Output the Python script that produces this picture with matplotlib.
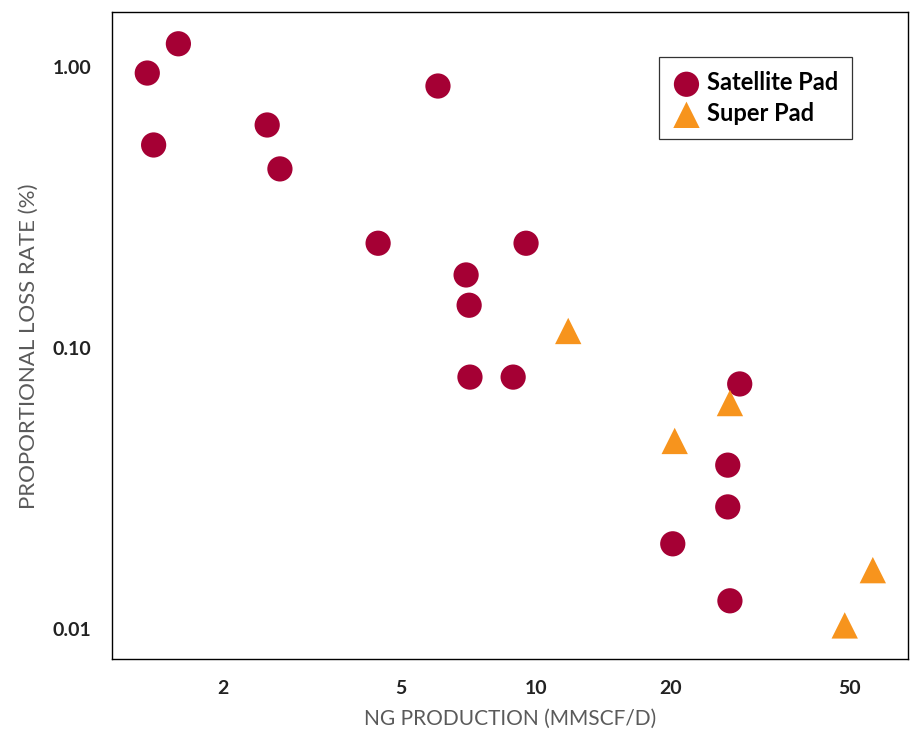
"""
Proportional loss rate vs. NG production, satellite vs. super pads (log-log).
"""
import matplotlib
matplotlib.use("Agg")
import matplotlib.pyplot as plt
import matplotlib.ticker as ticker

# ---------------------------------------------------------------------------
# Data
# ---------------------------------------------------------------------------
SAT_PROD = [1.355, 1.59, 1.40, 2.51, 2.68, 6.04, 4.44, 9.50, 6.98, 7.09,
            7.12, 8.89, 28.5, 26.8, 26.8, 20.2, 27.1]
SAT_LOSS = [0.952, 1.21, 0.528, 0.622, 0.434, 0.856, 0.236, 0.236, 0.182, 0.142,
            0.0788, 0.0788, 0.0745, 0.0383, 0.0272, 0.0201, 0.0126]

SUPER_PROD = [11.8, 27.1, 20.4, 56.5, 48.9]
SUPER_LOSS = [0.115, 0.0637, 0.0467, 0.0162, 0.0103]

X_TICKS = [2, 5, 10, 20, 50]
Y_TICKS = [0.01, 0.10, 1.00]

C_SAT = "#A50034"
C_SUPER = "#F7941D"
C_LABEL = "#5a5a5a"

plt.rcParams["font.family"] = ["Lato", "DejaVu Sans"]

fig = plt.figure(figsize=(9.11, 7.32), dpi=100)
ax = fig.add_axes([0.1229, 0.0997, 0.8738, 0.8839])

ax.scatter(SAT_PROD, SAT_LOSS, s=330, marker="o", color=C_SAT,
           edgecolors="none", label="Satellite Pad", zorder=3)
ax.scatter(SUPER_PROD, SUPER_LOSS, s=360, marker="^", color=C_SUPER,
           edgecolors="none", label="Super Pad", zorder=4)

ax.set_xscale("log")
ax.set_yscale("log")
ax.set_xlim(1.13, 67.7)
ax.set_ylim(0.00782, 1.57)

ax.xaxis.set_major_locator(ticker.FixedLocator(X_TICKS))
ax.xaxis.set_major_formatter(ticker.FixedFormatter([str(v) for v in X_TICKS]))
ax.xaxis.set_minor_locator(ticker.NullLocator())
ax.yaxis.set_major_locator(ticker.FixedLocator(Y_TICKS))
ax.yaxis.set_major_formatter(ticker.FixedFormatter([f"{v:.2f}" for v in Y_TICKS]))
ax.yaxis.set_minor_locator(ticker.NullLocator())

ax.tick_params(axis="both", length=0, labelsize=14, colors="#222222")
ax.tick_params(axis="x", pad=15)
ax.tick_params(axis="y", pad=15)
for lab in ax.get_xticklabels() + ax.get_yticklabels():
    lab.set_fontweight("bold")

ax.set_xlabel("NG PRODUCTION (MMSCF/D)", fontsize=15, color=C_LABEL,
              labelpad=9)
ax.set_ylabel("PROPORTIONAL LOSS RATE (%)", fontsize=16, color=C_LABEL)
# the reference centres the y label on the 0.10 row, a little below mid-axis
ax.yaxis.set_label_coords(-0.0917, 0.484)

for sp in ax.spines.values():
    sp.set_linewidth(1.0)
    sp.set_color("black")

leg = ax.legend(loc="upper right", bbox_to_anchor=(0.9296, 0.930),
                prop={"size": 17, "weight": "bold"}, fancybox=False,
                framealpha=1, edgecolor="#333333", handletextpad=0.3,
                borderpad=0.6, labelspacing=0.32, handlelength=1.1,
                markerscale=1.0, borderaxespad=0)
leg.get_frame().set_linewidth(0.9)

fig.savefig("out.png", dpi=100)
